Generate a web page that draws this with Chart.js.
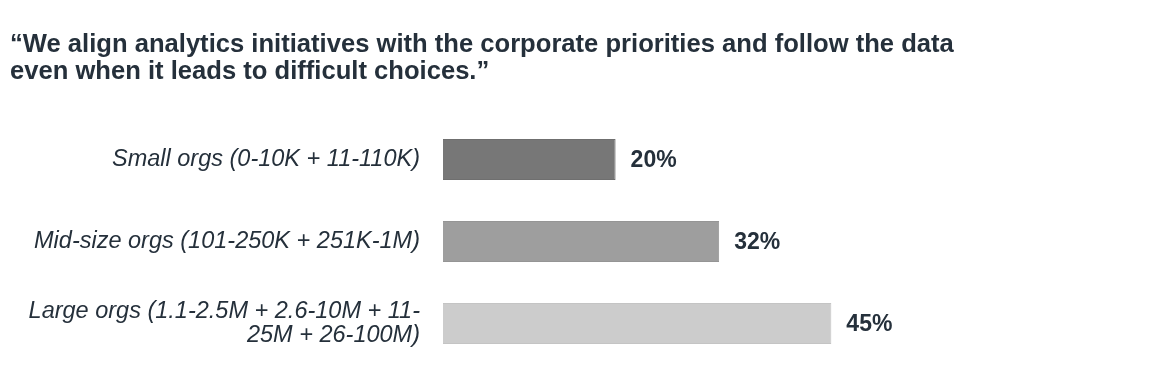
<!DOCTYPE html>
<html>
<head>
<meta charset="utf-8">
<script src="https://cdn.jsdelivr.net/npm/chart.js@4/dist/chart.umd.min.js"></script>
<style>
html,body{margin:0;padding:0;background:#fff;}
#wrap{width:1152px;height:388px;position:relative;}
</style>
</head>
<body>
<div id="wrap"><canvas id="c" width="1152" height="388"></canvas></div>
<script>
const titleLines = [
  "\u201CWe align analytics initiatives with the corporate priorities and follow the data",
  "even when it leads to difficult choices.\u201D"
];
const categories = [
  "Small orgs (0-10K + 11-110K)",
  "Mid-size orgs (101-250K + 251K-1M)",
  ["Large orgs (1.1-2.5M + 2.6-10M + 11-", "25M + 26-100M)"]
];
const values = [20, 32, 45];
const barColors = ["#777777", "#9e9e9e", "#cccccc"];
const barBorders = ["#6f6f6f", "#959595", "#c4c4c4"];

const FONT = "'Liberation Sans', Arial, sans-serif";
const TEXT = "#25303b";

const valueLabels = {
  id: 'valueLabels',
  afterDatasetsDraw(chart) {
    const ctx = chart.ctx;
    const meta = chart.getDatasetMeta(0);
    ctx.save();
    ctx.font = "bold 23px " + FONT;
    ctx.fillStyle = TEXT;
    ctx.textAlign = 'left';
    ctx.textBaseline = 'middle';
    meta.data.forEach((bar, i) => {
      ctx.fillText(values[i] + '%', bar.x + 15, bar.y + 1);
    });
    ctx.restore();
  }
};

new Chart(document.getElementById('c'), {
  type: 'bar',
  data: {
    labels: categories,
    datasets: [{
      data: values,
      backgroundColor: barColors,
      borderColor: barBorders,
      borderWidth: 1,
      barPercentage: 0.5,
      categoryPercentage: 1.0
    }]
  },
  options: {
    indexAxis: 'y',
    responsive: false,
    animation: false,
    devicePixelRatio: 1,
    layout: { padding: { left: 10, right: 18.6, top: 20, bottom: 23.5 } },
    plugins: {
      legend: { display: false },
      tooltip: { enabled: false },
      title: {
        display: true,
        text: titleLines,
        align: 'start',
        color: TEXT,
        font: { family: FONT, size: 25.6, weight: 'bold', lineHeight: 1.055 },
        padding: { top: 11.5, bottom: 33 }
      }
    },
    scales: {
      x: {
        display: false,
        min: 0,
        max: 80
      },
      y: {
        grid: { display: false, drawTicks: false },
        border: { display: false },
        ticks: {
          color: TEXT,
          padding: 23,
          font: { family: FONT, size: 23.5, style: 'italic', lineHeight: 1.0 }
        },
        afterFit(scale) {
          scale.width = 433;
          scale.paddingTop = 0;
          scale.paddingBottom = 0;
        }
      }
    }
  },
  plugins: [valueLabels]
});
</script>
</body>
</html>
